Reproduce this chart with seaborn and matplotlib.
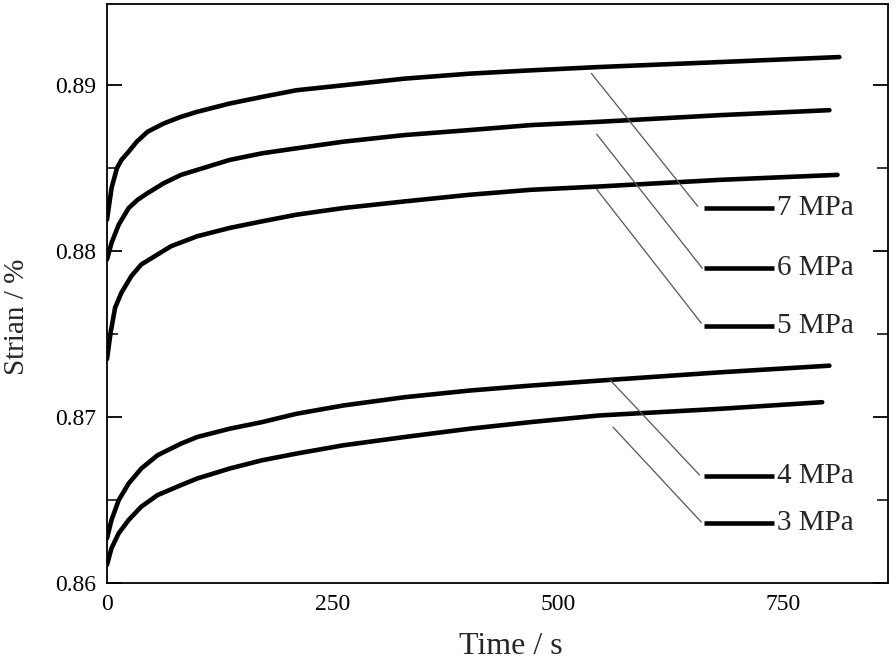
import numpy as np
import pandas as pd
import matplotlib
matplotlib.use('Agg')
import matplotlib.pyplot as plt
from matplotlib.ticker import MultipleLocator, FormatStrFormatter
import seaborn as sns

# creep curves (time in s, strain in %)
t_7 = [0, 5, 11, 16, 24, 33, 45, 63, 82, 100, 136, 172, 210, 262, 330, 402, 470, 546, 680, 812]
s_7 = [0.8819, 0.8838, 0.8850, 0.8855, 0.8860, 0.8866, 0.8872, 0.8877, 0.8881, 0.8884,
       0.8889, 0.8893, 0.8897, 0.8900, 0.8904, 0.8907, 0.8909, 0.8911, 0.8914, 0.8917]
t_6 = [0, 5, 13, 24, 34, 45, 63, 82, 100, 136, 172, 210, 262, 330, 402, 470, 546, 680, 801]
s_6 = [0.8795, 0.8805, 0.8816, 0.8826, 0.8831, 0.8835, 0.8841, 0.8846, 0.8849, 0.8855,
       0.8859, 0.8862, 0.8866, 0.8870, 0.8873, 0.8876, 0.8878, 0.8882, 0.8885]
t_5 = [0, 4, 9, 16, 27, 38, 53, 71, 100, 136, 172, 210, 262, 330, 402, 470, 546, 680, 810]
s_5 = [0.8735, 0.8751, 0.8766, 0.8775, 0.8785, 0.8792, 0.8797, 0.8803, 0.8809, 0.8814,
       0.8818, 0.8822, 0.8826, 0.8830, 0.8834, 0.8837, 0.8839, 0.8843, 0.8846]
t_4 = [0, 5, 13, 24, 38, 56, 82, 100, 136, 172, 210, 262, 330, 402, 470, 546, 680, 801]
s_4 = [0.8627, 0.8638, 0.8650, 0.8660, 0.8669, 0.8677, 0.8684, 0.8688, 0.8693, 0.8697,
       0.8702, 0.8707, 0.8712, 0.8716, 0.8719, 0.8722, 0.8727, 0.8731]
t_3 = [0, 5, 13, 24, 38, 56, 82, 100, 136, 172, 210, 262, 330, 402, 470, 546, 680, 793]
s_3 = [0.8611, 0.8621, 0.8630, 0.8638, 0.8646, 0.8653, 0.8659, 0.8663, 0.8669, 0.8674,
       0.8678, 0.8683, 0.8688, 0.8693, 0.8697, 0.8701, 0.8705, 0.8709]

labels = ['7 MPa', '6 MPa', '5 MPa', '4 MPa', '3 MPa']
times = [t_7, t_6, t_5, t_4, t_3]
strains = [s_7, s_6, s_5, s_4, s_3]

frames = []
for lab, t, s in zip(labels, times, strains):
    frames.append(pd.DataFrame({'time': t, 'strain': s, 'stress': lab}))
df = pd.concat(frames, ignore_index=True)

sns.set_style('white')
plt.rcParams['font.family'] = ['Liberation Serif', 'DejaVu Serif']

fig = plt.figure(figsize=(8.94, 6.62), dpi=100)
ax = fig.add_axes([0.1197, 0.1193, 0.8736, 0.8747])

sns.lineplot(data=df, x='time', y='strain', hue='stress', palette=['black'] * 5,
             linewidth=3.3, legend=False, sort=False, estimator=None, ax=ax)
for line in ax.lines:
    line.set_solid_joinstyle('round')

# label keys: leader start, leader end, key height
label_layout = [
    ((537, 0.89072), (655, 0.88271), 0.88259),
    ((543, 0.88705), (660, 0.87898), 0.87898),
    ((543, 0.88373), (659, 0.87566), 0.87548),
    ((558, 0.87223), (657, 0.86651), 0.86645),
    ((561, 0.86940), (659, 0.86367), 0.86361),
]
for lab, (p0, p1, ky) in zip(labels, label_layout):
    ax.plot([p0[0], p1[0]], [p0[1], p1[1]], color='#555555', lw=0.9)
    ax.plot([662, 740], [ky, ky], color='black', lw=3.3, solid_capstyle='butt')
    ax.text(743, ky, lab, fontsize=21, va='center', ha='left')

ax.set_xlim(0, 866)
ax.set_ylim(0.86, 0.8949)
ax.xaxis.set_major_locator(MultipleLocator(250))
ax.xaxis.set_minor_locator(MultipleLocator(125))
ax.yaxis.set_major_locator(MultipleLocator(0.01))
ax.yaxis.set_minor_locator(MultipleLocator(0.005))
ax.yaxis.set_major_formatter(FormatStrFormatter('%.2f'))

ax.tick_params(axis='both', which='major', direction='in', length=11, width=1.3,
               labelsize=17, pad=8, colors='black')
ax.tick_params(axis='y', which='minor', direction='in', length=8, width=1.3)
ax.tick_params(axis='x', which='minor', direction='out', length=6, width=1.3)
ax.tick_params(axis='y', which='both', right=True, left=True)

for sp in ax.spines.values():
    sp.set_color('black')
    sp.set_linewidth(1.3)

ax.set_xlabel('Time / s', fontsize=23)
ax.set_ylabel('Strian / %', fontsize=21)
ax.xaxis.set_label_coords(0.517, -0.085)
ax.yaxis.set_label_coords(-0.098, 0.46)

fig.savefig('out.png', dpi=100, facecolor='white')
